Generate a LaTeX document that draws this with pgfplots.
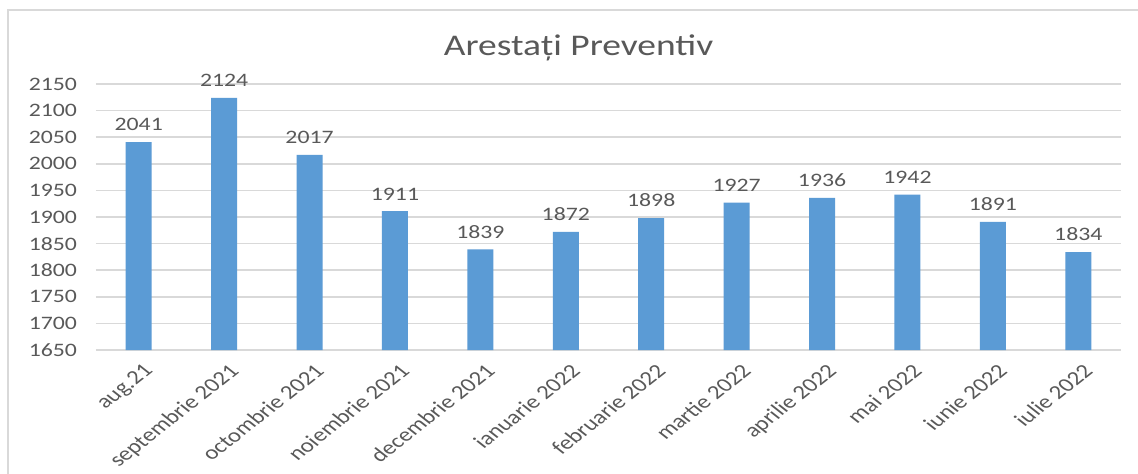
\documentclass[border=0pt]{standalone}
\usepackage{pgfplots}
\pgfplotsset{compat=1.18}
\usepackage{fontspec}
\setmainfont{Carlito}[FakeStretch=1.25]
\newfontfamily\plainfont{Carlito}
\definecolor{barblue}{HTML}{5B9BD5}
\definecolor{gridgrey}{HTML}{D9D9D9}
\definecolor{txtgrey}{HTML}{595959}
\begin{document}
\begin{tikzpicture}
\useasboundingbox (-48pt,-61.5pt) rectangle (521pt,175pt);
\fill[white] (-48pt,-61.5pt) rectangle (521pt,175pt);
\draw[gridgrey, line width=0.8pt] (-44pt,-70pt) -- (-44pt,170pt) -- (530pt,170pt);
\begin{axis}[
  at={(0,0)}, anchor=south west,
  scale only axis,
  width=512.5pt, height=133pt,
  ybar, bar width=13pt,
  xmin=-0.5, xmax=11.5,
  ymin=1650, ymax=2150,
  ytick={1650,1700,...,2150},
  ymajorgrids,
  grid style={gridgrey, line width=0.8pt},
  axis line style={draw=none},
  axis x line*=bottom,
  axis y line*=left,
  major tick length=0pt,
  xtick={0,...,11},
  xticklabels={aug.21,septembrie 2021,octombrie 2021,noiembrie 2021,decembrie 2021,ianuarie 2022,februarie 2022,martie 2022,aprilie 2022,mai 2022,iunie 2022,iulie 2022},
  x tick label style={xscale=1.27, rotate=45, anchor=north east, font=\plainfont\fontsize{9.8pt}{11pt}\selectfont, text=txtgrey, xshift=0pt, yshift=-2pt},
  y tick label style={font=\fontsize{9.5pt}{10pt}\selectfont, text=txtgrey, xshift=-6pt},
  /pgf/number format/assume math mode=true,
  /pgf/number format/set thousands separator={},
  nodes near coords,
  nodes near coords style={font=\fontsize{9.5pt}{10pt}\selectfont, text=txtgrey, yshift=2pt},
  title={Arestați Preventiv},
  title style={font=\fontsize{15pt}{16pt}\selectfont, text=txtgrey, at={(0.5,1)}, xshift=-15pt, yshift=2pt},
  clip=false,
]
\addplot[fill=barblue, draw=none] coordinates {
(0,2041) (1,2124) (2,2017) (3,1911) (4,1839) (5,1872) (6,1898) (7,1927) (8,1936) (9,1942) (10,1891) (11,1834)
};
\end{axis}
\end{tikzpicture}
\end{document}
